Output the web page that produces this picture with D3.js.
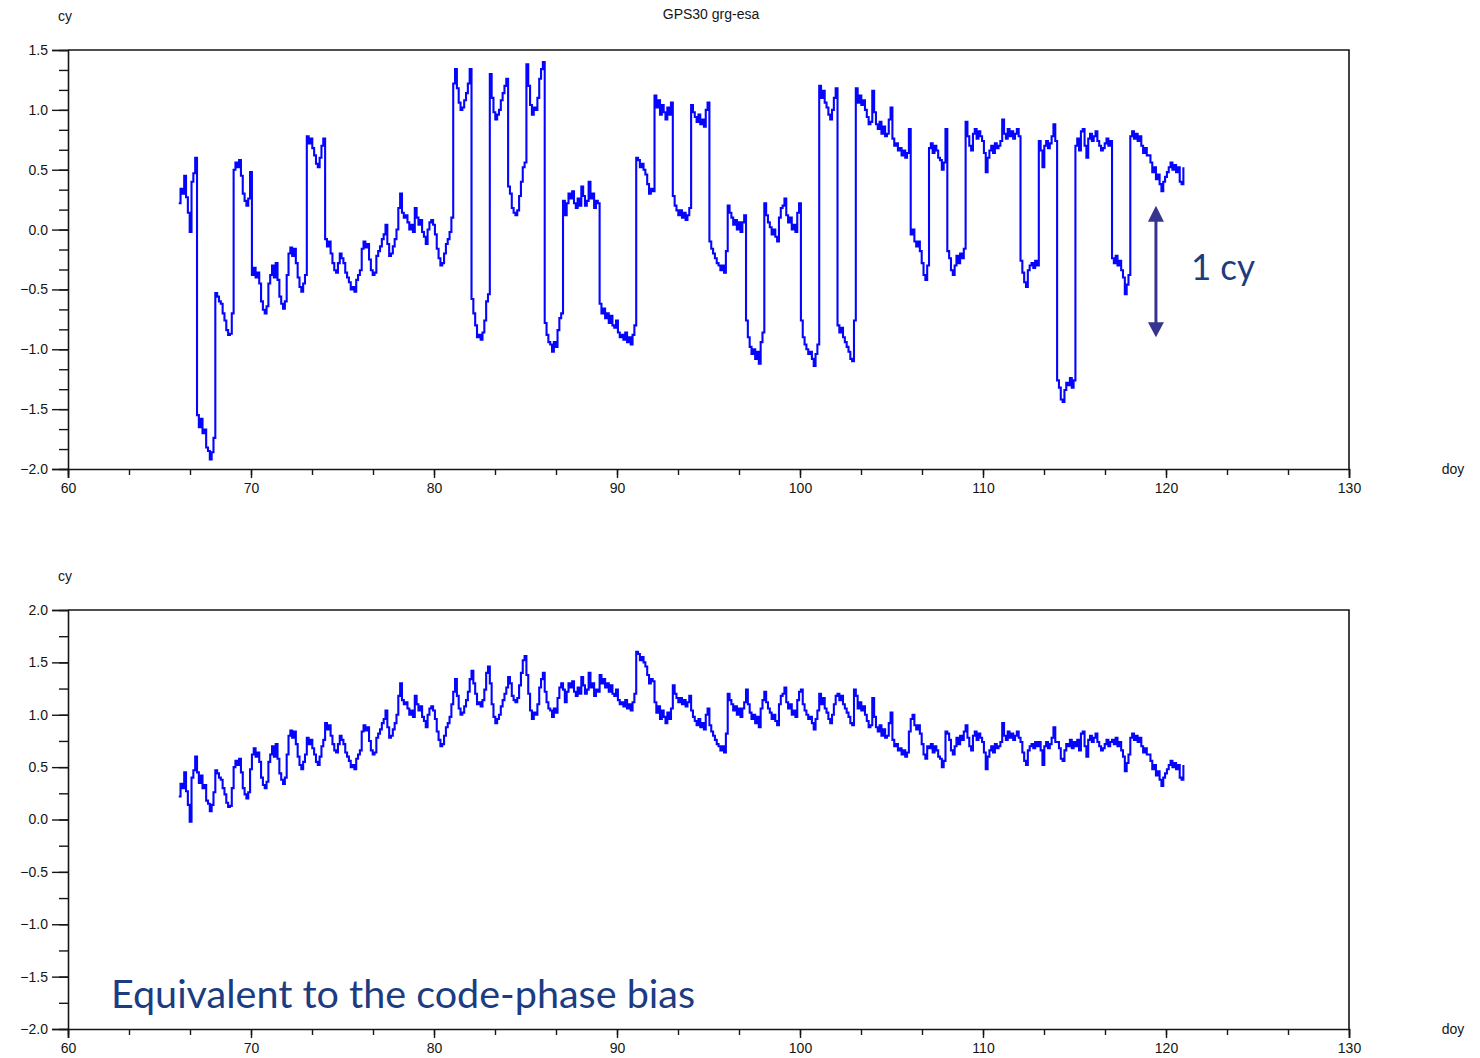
<!DOCTYPE html>
<html>
<head>
<meta charset="utf-8">
<script src="https://cdn.jsdelivr.net/npm/d3@7.9.0/dist/d3.min.js"></script>
<style>
  body { margin: 0; background: #fff; }
  svg text { font-family: "Liberation Sans", Arial, sans-serif; }
</style>
</head>
<body>
<svg id="chart" width="1480" height="1058"></svg>
<script>
// day of year, one row of 10 epochs per day (every 0.1 d)
const days = [66, 67, 68, 69, 70, 71, 72, 73, 74, 75, 76, 77, 78, 79, 80, 81, 82, 83, 84, 85,
  86, 87, 88, 89, 90, 91, 92, 93, 94, 95, 96, 97, 98, 99, 100, 101, 102, 103, 104, 105,
  106, 107, 108, 109, 110, 111, 112, 113, 114, 115, 116, 117, 118, 119, 120];

// code-phase bias in cycles (lower panel)
const bias = [
  [0.22, 0.34, 0.30, 0.45, 0.27, 0.14, -0.02, 0.40, 0.47, 0.60],
  [0.45, 0.35, 0.42, 0.30, 0.33, 0.18, 0.15, 0.08, 0.14, 0.26],
  [0.47, 0.44, 0.40, 0.38, 0.30, 0.24, 0.16, 0.12, 0.13, 0.30],
  [0.50, 0.56, 0.52, 0.58, 0.45, 0.30, 0.24, 0.20, 0.26, 0.48],
  [0.62, 0.68, 0.60, 0.64, 0.55, 0.40, 0.33, 0.30, 0.36, 0.55],
  [0.62, 0.70, 0.60, 0.72, 0.58, 0.44, 0.38, 0.34, 0.40, 0.62],
  [0.80, 0.85, 0.78, 0.84, 0.72, 0.60, 0.52, 0.48, 0.55, 0.62],
  [0.78, 0.72, 0.76, 0.68, 0.62, 0.55, 0.52, 0.60, 0.70, 0.76],
  [0.92, 0.86, 0.90, 0.80, 0.72, 0.66, 0.64, 0.72, 0.80, 0.76],
  [0.72, 0.64, 0.60, 0.56, 0.50, 0.52, 0.48, 0.58, 0.62, 0.66],
  [0.84, 0.90, 0.85, 0.88, 0.75, 0.66, 0.62, 0.64, 0.78, 0.82],
  [0.86, 0.92, 0.96, 1.04, 0.88, 0.78, 0.80, 0.86, 0.92, 1.00],
  [1.18, 1.30, 1.14, 1.10, 1.12, 1.06, 1.00, 1.04, 0.98, 1.18],
  [1.10, 1.04, 1.08, 0.98, 0.94, 0.88, 1.00, 1.06, 1.08, 1.04],
  [0.96, 0.84, 0.76, 0.70, 0.72, 0.80, 0.88, 0.92, 0.98, 1.10],
  [1.22, 1.34, 1.18, 1.06, 1.00, 1.02, 1.08, 1.14, 1.22, 1.34],
  [1.42, 1.30, 1.20, 1.10, 1.12, 1.08, 1.14, 1.24, 1.40, 1.46],
  [1.30, 1.10, 0.98, 0.92, 0.96, 1.00, 1.08, 1.14, 1.20, 1.26],
  [1.36, 1.30, 1.18, 1.14, 1.12, 1.16, 1.28, 1.40, 1.52, 1.56],
  [1.38, 1.20, 1.04, 0.96, 1.02, 1.00, 1.10, 1.26, 1.34, 1.40],
  [1.22, 1.12, 1.06, 1.04, 0.98, 1.06, 1.02, 1.16, 1.26, 1.30],
  [1.24, 1.12, 1.22, 1.30, 1.26, 1.32, 1.22, 1.18, 1.26, 1.20],
  [1.36, 1.28, 1.20, 1.24, 1.40, 1.26, 1.30, 1.18, 1.24, 1.22],
  [1.38, 1.30, 1.34, 1.26, 1.30, 1.22, 1.28, 1.20, 1.18, 1.24],
  [1.14, 1.10, 1.12, 1.08, 1.14, 1.06, 1.10, 1.04, 1.12, 1.20],
  [1.60, 1.58, 1.52, 1.55, 1.50, 1.46, 1.38, 1.30, 1.34, 1.32],
  [1.12, 1.02, 1.08, 0.96, 1.04, 0.98, 0.92, 1.02, 0.96, 1.06],
  [1.28, 1.20, 1.16, 1.12, 1.16, 1.10, 1.14, 1.08, 1.12, 1.18],
  [1.04, 0.98, 0.94, 0.90, 0.96, 0.88, 0.92, 0.86, 1.00, 1.06],
  [0.90, 0.84, 0.80, 0.76, 0.72, 0.70, 0.66, 0.70, 0.64, 0.82],
  [1.20, 1.14, 1.10, 1.04, 1.08, 1.00, 1.06, 0.98, 1.06, 1.12],
  [1.24, 1.10, 1.02, 0.96, 1.00, 0.92, 0.98, 0.88, 1.06, 1.14],
  [1.22, 1.12, 1.06, 1.02, 0.96, 1.00, 0.94, 0.90, 1.10, 1.18],
  [1.20, 1.26, 1.12, 1.06, 1.10, 1.00, 1.04, 0.98, 1.14, 1.22],
  [1.24, 1.10, 1.04, 1.00, 0.96, 0.98, 0.92, 0.86, 0.96, 1.04],
  [1.20, 1.10, 1.16, 1.06, 1.02, 0.96, 0.92, 1.00, 1.10, 1.18],
  [1.20, 1.14, 1.18, 1.10, 1.06, 1.02, 0.98, 0.92, 0.90, 1.24],
  [1.18, 1.06, 1.12, 1.04, 1.08, 1.00, 0.94, 0.88, 0.90, 1.16],
  [0.98, 0.88, 0.84, 0.90, 0.80, 0.86, 0.78, 0.80, 0.92, 1.02],
  [0.76, 0.70, 0.72, 0.66, 0.68, 0.62, 0.66, 0.60, 0.64, 0.84],
  [0.96, 1.00, 0.90, 0.86, 0.90, 0.82, 0.72, 0.62, 0.58, 0.70],
  [0.68, 0.72, 0.64, 0.70, 0.66, 0.60, 0.58, 0.50, 0.56, 0.84],
  [0.82, 0.76, 0.66, 0.62, 0.70, 0.78, 0.72, 0.80, 0.76, 0.84],
  [0.90, 0.78, 0.70, 0.66, 0.80, 0.84, 0.76, 0.82, 0.78, 0.74],
  [0.64, 0.48, 0.60, 0.66, 0.70, 0.64, 0.72, 0.68, 0.70, 0.74],
  [0.92, 0.80, 0.76, 0.84, 0.78, 0.82, 0.76, 0.80, 0.84, 0.78],
  [0.74, 0.64, 0.56, 0.52, 0.66, 0.70, 0.72, 0.68, 0.74, 0.70],
  [0.74, 0.66, 0.52, 0.70, 0.74, 0.68, 0.72, 0.78, 0.88, 0.74],
  [0.74, 0.68, 0.58, 0.56, 0.66, 0.72, 0.70, 0.76, 0.68, 0.74],
  [0.70, 0.76, 0.66, 0.82, 0.84, 0.70, 0.60, 0.76, 0.80, 0.74],
  [0.78, 0.82, 0.74, 0.70, 0.66, 0.68, 0.72, 0.76, 0.70, 0.74],
  [0.76, 0.72, 0.78, 0.70, 0.74, 0.66, 0.60, 0.46, 0.54, 0.62],
  [0.78, 0.82, 0.76, 0.80, 0.74, 0.78, 0.70, 0.64, 0.68, 0.62],
  [0.62, 0.56, 0.48, 0.52, 0.42, 0.46, 0.38, 0.32, 0.40, 0.44],
  [0.48, 0.52, 0.56, 0.50, 0.54, 0.48, 0.52, 0.40, 0.38, 0.52]
];

// integer cycles of the daily ambiguity (upper panel = bias + cycles)
const cycles = [0, -2, -1, 0, -1, -1, -1, 0, -1, -1, -1, -1, -1, -1, -1, 0, -2, 0, -1, 0,
  -2, -1, -1, -2, -2, -1, 0, -1, 0, -1, -1, -2, -1, -1, -2, 0, -2, 0, 0, 0,
  -1, 0, -1, 0, 0, 0, -1, 0, -2, 0, 0, -1, 0, 0, 0];

const xTicks = [60, 70, 80, 90, 100, 110, 120, 130];
const topYTicks = [-2.0, -1.5, -1.0, -0.5, 0.0, 0.5, 1.0, 1.5];
const botYTicks = [-2.0, -1.5, -1.0, -0.5, 0.0, 0.5, 1.0, 1.5, 2.0];

const svg = d3.select("#chart");
const blue = "#0505ff";
const ink = "#151515";

const x = d3.scaleLinear().domain([60, 130]).range([68, 1349]);
const yTop = d3.scaleLinear().domain([-2, 1.5]).range([469, 50]);
const yBot = d3.scaleLinear().domain([-2, 2]).range([1029, 610]);

const points = days.flatMap((d, i) => bias[i].map((v, j) => ({
  doy: d + (j + 0.5) / 10,
  bias: v,
  phase: v + cycles[i]
})));

function styleAxis(a) {
  a.attr("font-family", null).attr("font-size", null);
  a.selectAll(".domain").attr("stroke", ink).attr("stroke-width", 1.6);
  a.selectAll(".tick line").attr("stroke", ink).attr("stroke-width", 1.4);
  a.selectAll(".tick text").attr("fill", ink).style("font-size", "14px");
}

function drawPanel(y, yTicks, yMinorStep, key) {
  const g = svg.append("g");
  const [y0, y1] = y.range();

  // minor ticks first so majors sit on top
  const yMinor = d3.range(y.domain()[0], y.domain()[1] + 1e-6, yMinorStep);
  g.append("g")
    .attr("transform", `translate(${x(60)},0)`)
    .call(d3.axisLeft(y).tickValues(yMinor).tickSize(9).tickFormat(""))
    .call(a => a.select(".domain").remove())
    .call(styleAxis);

  g.append("g")
    .attr("transform", `translate(${x(60)},0)`)
    .call(d3.axisLeft(y).tickValues(yTicks).tickSize(16).tickPadding(4).tickFormat(d3.format(".1f")))
    .call(styleAxis);

  const xMinor = d3.range(60, 130.001, 10 / 3);
  g.append("g")
    .attr("transform", `translate(0,${y0})`)
    .call(d3.axisBottom(x).tickValues(xMinor).tickSize(6).tickFormat(""))
    .call(a => a.select(".domain").remove())
    .call(styleAxis);

  g.append("g")
    .attr("transform", `translate(0,${y0})`)
    .call(d3.axisBottom(x).tickValues(xTicks).tickSize(9).tickPadding(5))
    .call(styleAxis);

  // top and right frame lines
  g.append("path")
    .attr("d", `M${x(60)},${y1}H${x(130)}V${y0}`)
    .attr("fill", "none")
    .attr("stroke", ink)
    .attr("stroke-width", 1.6);

  const line = d3.line()
    .x(d => x(d.doy))
    .y(d => y(d[key]))
    .curve(d3.curveStepAfter);

  g.append("path")
    .datum(points)
    .attr("d", line)
    .attr("fill", "none")
    .attr("stroke", blue)
    .attr("stroke-width", 2.1);

  g.append("text")
    .attr("x", 65).attr("y", y1 - 34)
    .attr("text-anchor", "middle")
    .attr("dominant-baseline", "central")
    .style("font-size", "14px").attr("fill", ink)
    .text("cy");

  g.append("text")
    .attr("x", 1453).attr("y", y0)
    .attr("text-anchor", "middle")
    .attr("dominant-baseline", "central")
    .style("font-size", "14px").attr("fill", ink)
    .text("doy");
}

drawPanel(yTop, topYTicks, 0.5 / 3, "phase");
drawPanel(yBot, botYTicks, 0.25, "bias");

svg.append("text")
  .attr("x", 711).attr("y", 14)
  .attr("text-anchor", "middle")
  .attr("dominant-baseline", "central")
  .style("font-size", "14px").attr("fill", ink)
  .text("GPS30 grg-esa");

// 1 cy annotation arrow
const navy = "#35358f";
const ax = x(119.45);
const aTop = yTop(0.2), aBot = yTop(-0.9);
svg.append("line")
  .attr("x1", ax).attr("x2", ax)
  .attr("y1", aTop + 12).attr("y2", aBot - 12)
  .attr("stroke", navy).attr("stroke-width", 3);
svg.append("path")
  .attr("d", `M${ax},${aTop}L${ax - 8},${aTop + 16}L${ax + 8},${aTop + 16}Z`)
  .attr("fill", navy);
svg.append("path")
  .attr("d", `M${ax},${aBot}L${ax - 8},${aBot - 15}L${ax + 8},${aBot - 15}Z`)
  .attr("fill", navy);

svg.append("text")
  .attr("x", ax + 35).attr("y", yTop(-0.42))
  .attr("fill", "#1c3c82")
  .attr("textLength", 64).attr("lengthAdjust", "spacingAndGlyphs")
  .style("font-family", "'Comic Sans MS', Lato, sans-serif")
  .style("font-size", "36px")
  .text("1 cy");

svg.append("text")
  .attr("x", 111).attr("y", yBot(-1.8))
  .attr("fill", "#1c3c82")
  .attr("textLength", 584).attr("lengthAdjust", "spacingAndGlyphs")
  .style("font-family", "'Comic Sans MS', Lato, sans-serif")
  .style("font-size", "38px")
  .text("Equivalent to the code-phase bias");
</script>
</body>
</html>
